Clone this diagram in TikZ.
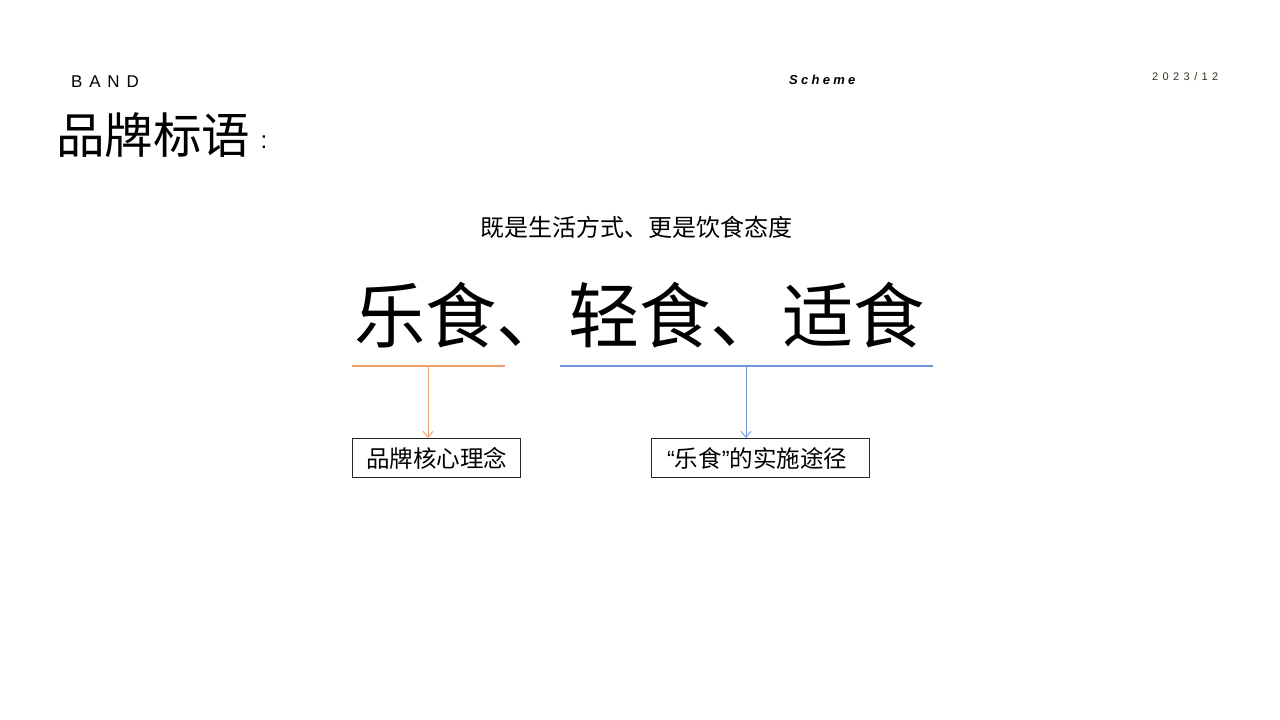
\documentclass[tikz,border=0pt]{standalone}
\usepackage{fontspec}
\setmainfont{Liberation Sans}
\newfontfamily\cjk{Noto Sans CJK SC}
\newfontfamily\latinsp[LetterSpace=40]{Liberation Sans}
\newfontfamily\latinspb[LetterSpace=25]{Liberation Sans}
\newfontfamily\latinspd[LetterSpace=40]{Liberation Sans}
\usetikzlibrary{arrows.meta}
\definecolor{orangeline}{HTML}{F2A06A}
\definecolor{blueline}{HTML}{7096DC}
\definecolor{datecol}{HTML}{3A3020}
\tikzset{
  cjktext/.style={font=\cjk, inner sep=0pt, anchor=center},
  labelbox/.style={draw=black!85, line width=1.2pt, font=\cjk\fontsize{23.5}{25}\selectfont, minimum height=39pt, inner sep=0pt, anchor=north west},
  linkarrow/.style={-{Straight Barb[length=6pt,width=10pt]}, line width=0.9pt},
}
\begin{document}
\begin{tikzpicture}[x=1pt,y=-1pt]
\useasboundingbox (0,0) rectangle (1280,720);
\fill[white] (0,0) rectangle (1280,720);
% header
\node[anchor=west, inner sep=0pt, font=\latinsp\fontsize{17}{18}\selectfont] (band) at (71,82) {BAND};
\node[anchor=west, inner sep=0pt, font=\latinspb\fontsize{13}{15}\selectfont\bfseries\itshape] (scheme) at (789,80) {Scheme};
\node[anchor=west, inner sep=0pt, font=\latinspd\fontsize{11}{13}\selectfont, text=datecol] (date) at (1152,77) {2023/12};
\node[anchor=west, inner sep=0pt, font=\cjk\fontsize{48.5}{50}\selectfont] (title) at (56,135) {品牌标语};
\node[anchor=center, inner sep=0pt, font=\fontsize{24}{26}\selectfont] (colon) at (264,142) {:};
% subtitle
\node[cjktext, font=\cjk\fontsize{24}{26}\selectfont] (sub) at (636,227) {既是生活方式、更是饮食态度};
% big slogan
\node[cjktext, anchor=west, font=\cjk\fontsize{71.3}{74}\selectfont] (slogan) at (354,315) {乐食、轻食、适食};
% underlines
\coordinate (oa) at (352,366);
\coordinate (ob) at (505,366);
\coordinate (ba) at (560,366);
\coordinate (bb) at (933,366);
\draw[orangeline, line width=1.8pt] (oa) -- (ob);
\draw[blueline, line width=1.8pt] (ba) -- (bb);
% boxes
\node[labelbox, minimum width=168pt] (box1) at (352,438) {品牌核心理念};
\node[labelbox, minimum width=218pt, text width=207pt, align=left, inner xsep=0pt] (box2) at (651,438) {\hspace*{10pt}{\fontspec{Liberation Sans}“}乐食{\fontspec{Liberation Sans}”}的实施途径};
% arrows
\coordinate (o1) at (428,367);
\coordinate (b1) at (746,367);
\draw[linkarrow, orangeline] (o1) -- (o1 |- box1.north);
\draw[linkarrow, blueline] (b1) -- (b1 |- box2.north);
\end{tikzpicture}
\end{document}
